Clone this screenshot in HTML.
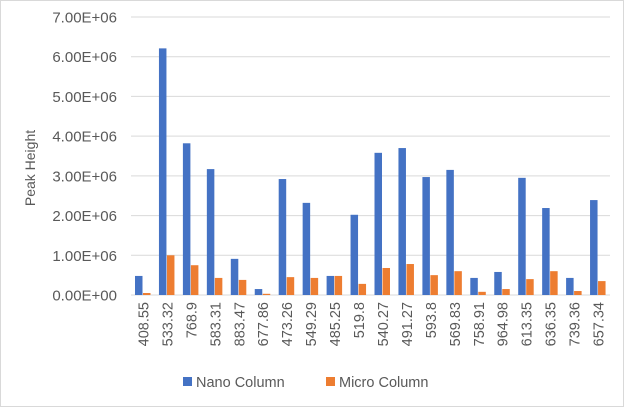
<!DOCTYPE html>
<html><head><meta charset="utf-8"><style>
body{margin:0;background:#fff;}
svg text{font-family:"Liberation Sans",sans-serif;fill:#595959;}
</style></head><body>
<svg width="624" height="407">
<rect x="0.5" y="0.5" width="623" height="406" fill="#fff" stroke="#d9d9d9"/>
<g id="grid"></g><g id="bars"></g><g id="xl"></g>
<text transform="translate(35,168) rotate(-90)" text-anchor="middle" font-size="14">Peak Height</text>
<g>
<g><rect x="183" y="377" width="9" height="9" fill="#4472c4"/><text x="196" y="387" font-size="14.5">Nano Column</text></g>
<g><rect x="326" y="377" width="9" height="9" fill="#ed7d31"/><text x="339" y="387" font-size="14.5">Micro Column</text></g>
</g>
</svg>
<script>
const categories=["408.55","533.32","768.9","583.31","883.47","677.86","473.26","549.29","485.25","519.8","540.27","491.27","593.8","569.83","758.91","964.98","613.35","636.35","739.36","657.34"];
const nano=[0.48e6,6.21e6,3.82e6,3.17e6,0.91e6,0.15e6,2.92e6,2.32e6,0.48e6,2.02e6,3.58e6,3.70e6,2.97e6,3.15e6,0.43e6,0.58e6,2.95e6,2.19e6,0.43e6,2.39e6];
const micro=[0.05e6,1.0e6,0.75e6,0.43e6,0.38e6,0.03e6,0.45e6,0.43e6,0.48e6,0.28e6,0.68e6,0.78e6,0.5e6,0.6e6,0.08e6,0.15e6,0.4e6,0.6e6,0.1e6,0.35e6];
const ticks=[0,1e6,2e6,3e6,4e6,5e6,6e6,7e6];
const tickLabels=["0.00E+00","1.00E+06","2.00E+06","3.00E+06","4.00E+06","5.00E+06","6.00E+06","7.00E+06"];
const NS="http://www.w3.org/2000/svg";
const x0=131,x1=610,y0=295,yTop=17,ymax=7e6;
const y=v=>y0-(v/ymax)*(y0-yTop);
const bw=(x1-x0)/categories.length;
const xc=i=>x0+bw*i;
function mk(t,a,p){const e=document.createElementNS(NS,t);for(const k in a)e.setAttribute(k,a[k]);p.appendChild(e);return e;}
const grid=document.getElementById('grid');
ticks.forEach((t,i)=>{
 const l=mk('line',{x1:x0,x2:x1,y1:y(t),y2:y(t),stroke:'#d9d9d9','stroke-width':1},grid);
 
 
 const tx=mk('text',{x:117,y:y(t)+5.5,'text-anchor':'end','font-size':15},grid);
 tx.textContent=tickLabels[i];
 
 
});
const bars=document.getElementById('bars'),xl=document.getElementById('xl');
categories.forEach((c,i)=>{
 const s=xc(i);
 const b1=mk('rect',{x:s+4,y:y(nano[i]),width:7.5,height:y0-y(nano[i]),fill:'#4472c4'},bars);
 
 
 const b2=mk('rect',{x:s+12,y:y(micro[i]),width:7.5,height:y0-y(micro[i]),fill:'#ed7d31'},bars);
 
 
 const t=mk('text',{transform:`translate(${s+bw/2+5.5},302) rotate(-90)`,'text-anchor':'end','font-size':14.5},xl);
 t.textContent=c;
 
 
});
</script>
</body></html>
